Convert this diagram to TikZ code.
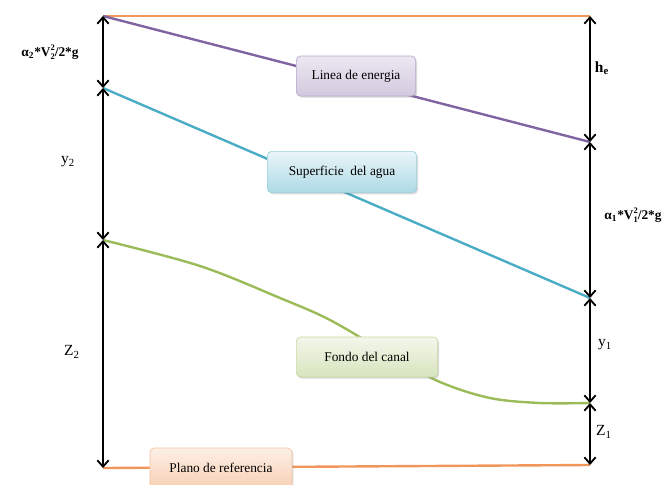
\documentclass[tikz,border=0pt]{standalone}
\usepackage{fontspec}
\setmainfont{Liberation Serif}
\usetikzlibrary{arrows.meta,
	shadows,
	positioning}
\definecolor{lorange}{HTML}{F0965A}
\definecolor{lpurple}{HTML}{8064A2}
\definecolor{lcyan}{HTML}{4BACC6}
\definecolor{lgreen}{HTML}{9BBB59}
\newcommand{\subsup}[2]{\rlap{\raisebox{-0.45ex}{\fontsize{6}{6}\selectfont #1}}\raisebox{1ex}{\fontsize{6}{6}\selectfont #2}}

\begin{document}
\begin{tikzpicture}[x=0.025cm, y=-0.025cm,
	cota/.style={line width=1.3pt, {Straight Barb[length=4.5pt,width=8pt]}-{Straight Barb[length=4.5pt,width=8pt]}},
	linea/.style={line width=1.7pt},
	caja/.style={rounded corners=3pt, draw=#1!55!white, line width=0.5pt,
		drop shadow={opacity=0.3, shadow xshift=1pt, shadow yshift=-1.2pt},
		font=\fontsize{9.5}{10}\selectfont, inner sep=0pt, minimum height=1cm},
	etiqueta/.style={font=\fontsize{11}{12}\selectfont},
	formula/.style={font=\bfseries\fontsize{9.5}{11}\selectfont}]
	\useasboundingbox (0,0) rectangle (670,485);
	% puntos de las cotas
	\coordinate (l0) at (103,16);
	\coordinate (l1) at (103,88);
	\coordinate (l2) at (103,240);
	\coordinate (l3) at (103,468);
	\coordinate (r0) at (590,16);
	\coordinate (r1) at (590,142);
	\coordinate (r2) at (590,298);
	\coordinate (r3) at (590,403);
	\coordinate (r4) at (590,465);
	% lineas
	\draw[linea, lorange] (l0) -- (r0);
	\draw[linea, lpurple] (l0) -- (r1);
	\draw[linea, lcyan] (l1) -- (r2);
	\draw[linea, lgreen] plot[smooth, tension=0.55] coordinates {(103,240) (200,266) (280,298) (330,320) (390,355) (440,382) (490,398) (540,403) (590,403)};
	\draw[linea, lorange] (l3) -- (r4);
	% cotas
	\foreach \a/\b in {l0/l1, l1/l2, l2/l3, r0/r1, r1/r2, r2/r3, r3/r4}
		\draw[cota] (\a) -- (\b);
	% cajas
	\node[caja=lpurple, top color=lpurple!15!white, bottom color=lpurple!35!white, minimum width=2.98cm] (energia) at (356,76) {Linea de energia};
	\node[caja=lcyan, top color=lcyan!12!white, bottom color=lcyan!45!white, minimum width=3.73cm, minimum height=1.03cm] (agua) at (342,172) {Superficie\ \ del agua};
	\node[caja=lgreen, top color=lgreen!12!white, bottom color=lgreen!40!white, minimum width=3.53cm] (fondo) at (367,357) {Fondo del canal};
	\node[caja=lorange, top color=lorange!15!white, bottom color=lorange!45!white, minimum width=3.55cm] (plano) at (221,468) {Plano de referencia};
	% etiquetas
	\node[formula] (a2) at (50,52) {α\textsubscript{2}*V\subsup{2}{2}/2*g};
	\node[etiqueta] (y2) at (68,162) {y\textsubscript{2}};
	\node[etiqueta] (z2) at (72,352) {Z\textsubscript{2}};
	\node[formula, font=\bfseries\fontsize{11}{12}\selectfont] (he) at (602,68) {h\textsubscript{e}};
	\node[formula] (a1) at (633,215) {α\textsubscript{1}*V\subsup{1}{2}/2*g};
	\node[etiqueta] (y1) at (605,345) {y\textsubscript{1}};
	\node[etiqueta] (z1) at (604,432) {Z\textsubscript{1}};
\end{tikzpicture}
\end{document}
